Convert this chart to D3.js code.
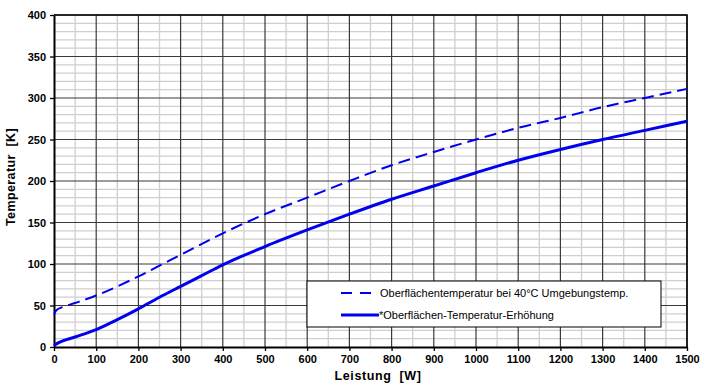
<!DOCTYPE html>
<html>
<head>
<meta charset="utf-8">
<script src="https://cdn.jsdelivr.net/npm/d3@7"></script>
<style>
  body { margin: 0; background: #fff; }
  svg { display: block; font-family: "Liberation Sans", Arial, sans-serif; }
</style>
</head>
<body>
<svg width="710" height="384"></svg>
<script>
// values
var leistung1 = [0, 10, 50, 100, 150, 200, 250, 300, 350, 400, 500, 600, 700, 800, 900, 1000, 1100, 1200, 1300, 1400, 1500];
var erhoehung = [2, 5, 12, 21, 33, 46, 60, 73, 86, 99, 121, 141, 160, 178, 194, 210, 225, 238, 250, 261, 272];

var leistung2 = [0, 5, 20, 50, 100, 150, 200, 250, 300, 400, 500, 600, 700, 800, 900, 1000, 1100, 1200, 1300, 1400, 1500];
var oberflaeche = [39, 44, 48, 53, 62, 73, 85, 98, 111, 137, 160, 180, 200, 219, 235, 250, 264, 276, 289, 300, 311];

var xTicks = d3.range(0, 1501, 100);
var yTicks = d3.range(0, 401, 50);
var legendLabels = ["Oberflächentemperatur bei 40°C Umgebungstemp.", "*Oberflächen-Temperatur-Erhöhung"];

var margin = {top: 15, right: 23, bottom: 37, left: 54},
    width = 710 - margin.left - margin.right,
    height = 384 - margin.top - margin.bottom;

var svg = d3.select("svg")
  .append("g")
    .attr("transform", "translate(" + margin.left + "," + margin.top + ")");

var x = d3.scaleLinear().domain([0, 1500]).range([0, width]);
var y = d3.scaleLinear().domain([0, 400]).range([height, 0]);

// minor grid
svg.append("g").selectAll("line")
  .data(d3.range(10, 400, 10).filter(d => d % 50))
  .enter().append("line")
    .attr("x1", 0).attr("x2", width)
    .attr("y1", d => y(d)).attr("y2", d => y(d))
    .style("stroke", "#cfcfcf").style("stroke-width", 1.3);

svg.append("g").selectAll("line")
  .data(d3.range(50, 1500, 100))
  .enter().append("line")
    .attr("x1", d => x(d)).attr("x2", d => x(d))
    .attr("y1", 0).attr("y2", height)
    .style("stroke", "#cfcfcf").style("stroke-width", 1.3);

// major grid
svg.append("g").selectAll("line")
  .data(yTicks.slice(1))
  .enter().append("line")
    .attr("x1", 0).attr("x2", width)
    .attr("y1", d => y(d)).attr("y2", d => y(d))
    .style("stroke", "#3a3a3a").style("stroke-width", 1.2);

svg.append("g").selectAll("line")
  .data(xTicks.slice(1))
  .enter().append("line")
    .attr("x1", d => x(d)).attr("x2", d => x(d))
    .attr("y1", 0).attr("y2", height)
    .style("stroke", "#3a3a3a").style("stroke-width", 1.2);

// top and right border
svg.append("path")
  .attr("d", "M0,0H" + width + "V" + height)
  .style("fill", "none").style("stroke", "#000").style("stroke-width", 1.5);

// axes
var xAxis = svg.append("g")
  .attr("transform", "translate(0," + height + ")")
  .call(d3.axisBottom(x).tickValues(xTicks).tickFormat(d3.format("d"))
    .tickSize(4).tickPadding(4).tickSizeOuter(0));
var yAxis = svg.append("g")
  .call(d3.axisLeft(y).tickValues(yTicks).tickFormat(d3.format("d"))
    .tickSize(4).tickPadding(4).tickSizeOuter(0));

[xAxis, yAxis].forEach(function(a) {
  a.select(".domain").style("stroke", "#000").style("stroke-width", 2);
  a.selectAll(".tick line").style("stroke", "#000").style("stroke-width", 1.3);
  a.selectAll("text")
    .style("font-family", "'Liberation Sans', Arial, sans-serif")
    .style("font-size", "11px").style("font-weight", "bold").style("fill", "#000");
});

// lines
var line = d3.line()
  .x(d => x(d[0]))
  .y(d => y(d[1]))
  .curve(d3.curveMonotoneX);

svg.append("path")
  .datum(d3.zip(leistung2, oberflaeche))
  .attr("d", line)
  .style("fill", "none").style("stroke", "#0000ee")
  .style("stroke-width", 2).style("stroke-dasharray", "12,6");

svg.append("path")
  .datum(d3.zip(leistung1, erhoehung))
  .attr("d", line)
  .style("fill", "none").style("stroke", "#0000ee")
  .style("stroke-width", 3);

// axis titles
svg.append("text")
  .attr("x", 324).attr("y", height + 33)
  .attr("text-anchor", "middle")
  .attr("xml:space", "preserve")
  .style("font-size", "12.5px").style("font-weight", "bold").style("letter-spacing", "0.6px")
  .text("Leistung  [W]");

svg.append("text")
  .attr("transform", "translate(-39," + 162 + ") rotate(-90)")
  .attr("text-anchor", "middle")
  .attr("xml:space", "preserve")
  .style("font-size", "12.5px").style("font-weight", "bold").style("letter-spacing", "0.4px")
  .text("Temperatur  [K]");

// legend
var lg = svg.append("g").attr("transform", "translate(253,266)");
lg.append("rect")
  .attr("width", 354).attr("height", 46)
  .style("fill", "#fff").style("stroke", "#000").style("stroke-width", 1);

lg.append("line")
  .attr("x1", 34).attr("x2", 72).attr("y1", 12).attr("y2", 12)
  .style("stroke", "#0000ee").style("stroke-width", 2).style("stroke-dasharray", "11,8");
lg.append("line")
  .attr("x1", 34).attr("x2", 72).attr("y1", 34).attr("y2", 34)
  .style("stroke", "#0000ee").style("stroke-width", 3);

lg.selectAll("text.lbl")
  .data(legendLabels)
  .enter().append("text")
    .attr("class", "lbl")
    .attr("x", (d, i) => i ? 72 : 73)
    .attr("y", (d, i) => 16 + i * 22)
    .style("font-size", "11px").style("fill", "#000")
    .text(d => d);
</script>
</body>
</html>
